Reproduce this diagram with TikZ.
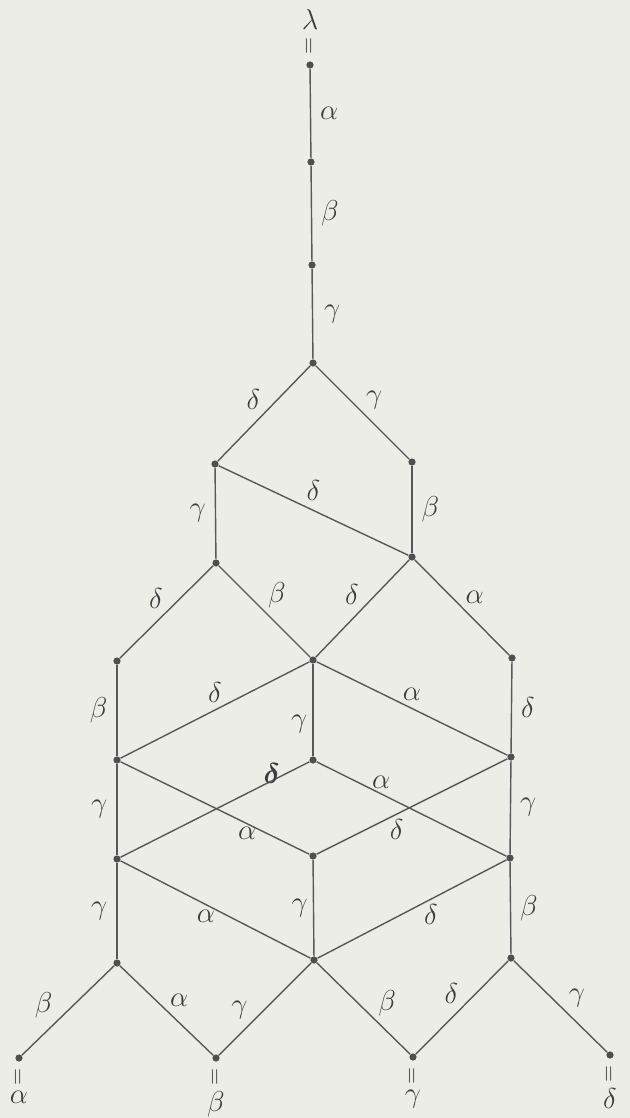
\documentclass[tikz,border=0pt]{standalone}
\usepackage{amsmath}
\usepackage{tikz}
\usetikzlibrary{positioning}
\definecolor{paper}{RGB}{237,237,232}
\definecolor{pencil}{RGB}{88,88,88}

\begin{document}
\begin{tikzpicture}[
  x=0.5pt, y=-0.5pt,
  node distance=2pt,
  dot/.style={circle, fill=pencil!90!black, inner sep=0pt, minimum size=3.6pt},
  edge/.style={draw=pencil, line width=0.7pt},
  lbl/.style={font=\fontsize{15}{17}\selectfont, inner sep=1.5pt, text=pencil!70!black},
  eqs/.style={font=\fontsize{11}{13}\selectfont\bfseries, inner sep=0pt, text=pencil!70!black}
]
\fill[paper] (0,0) rectangle (630,1118);
\useasboundingbox (0,0) rectangle (630,1118);
% stem
\node[dot] (l0) at (310,65) {};
\node[dot] (l1) at (311,162) {};
\node[dot] (l2) at (312,265) {};
\node[dot] (r0) at (313,363) {};
% upper part
\node[dot] (a1) at (215,464) {};
\node[dot] (a2) at (412,462) {};
\node[dot] (b1) at (216,563) {};
\node[dot] (b2) at (412,557) {};
% middle rows
\node[dot] (c1) at (117,661) {};
\node[dot] (c2) at (313,660) {};
\node[dot] (c3) at (512,658) {};
\node[dot] (d1) at (117,760) {};
\node[dot] (d2) at (313,760) {};
\node[dot] (d3) at (511,757) {};
\node[dot] (e1) at (117,859) {};
\node[dot] (e2) at (313,856) {};
\node[dot] (e3) at (510,858) {};
\node[dot] (f1) at (117,963) {};
\node[dot] (f2) at (314,960) {};
\node[dot] (f3) at (511,958) {};
% leaves
\node[dot] (g1) at (19,1058) {};
\node[dot] (g2) at (216,1058) {};
\node[dot] (g3) at (413,1057) {};
\node[dot] (g4) at (610,1055) {};
% end marks
\node[eqs, above=3pt of l0] (topeq) {\rotatebox{90}{$=$}};
\node[lbl, above=2pt of topeq] (toplam) {$\lambda$};
\foreach \g/\t in {g1/\alpha, g2/\beta, g3/\gamma, g4/\delta}{
  \node[eqs, below=3pt of \g] (\g eq) {\rotatebox{90}{$=$}};
  \node[lbl, below=1pt of \g eq] (\g lam) {$\t$};
}
% stem edges
\draw[edge] (l0) -- node[lbl, right=3pt] {$\alpha$} (l1);
\draw[edge] (l1) -- node[lbl, right=3pt] {$\beta$} (l2);
\draw[edge] (l2) -- node[lbl, right=4pt] {$\gamma$} (r0);
\draw[edge] (r0) -- node[lbl, above left] {$\delta$} (a1);
\draw[edge] (r0) -- node[lbl, above right] {$\gamma$} (a2);
\draw[edge] (a1) -- node[lbl, left=3pt] {$\gamma$} (b1);
\draw[edge] (a1) -- node[lbl, above=3pt] {$\delta$} (b2);
\draw[edge] (a2) -- node[lbl, right=3pt] {$\beta$} (b2);
\draw[edge] (b1) -- node[lbl, above left] {$\delta$} (c1);
\draw[edge] (b1) -- node[lbl, above right] {$\beta$} (c2);
\draw[edge] (b2) -- node[lbl, above left] {$\delta$} (c2);
\draw[edge] (b2) -- node[lbl, above right] {$\alpha$} (c3);
\draw[edge] (c1) -- node[lbl, left=3pt] {$\beta$} (d1);
\draw[edge] (c2) -- node[lbl, above=2pt] {$\delta$} (d1);
\draw[edge] (c2) -- node[lbl, left=1pt, pos=0.65] {$\gamma$} (d2);
\draw[edge] (c2) -- node[lbl, above=2pt] {$\alpha$} (d3);
\draw[edge] (c3) -- node[lbl, right=3pt] {$\delta$} (d3);
% inner crossing
\draw[edge] (d1) -- node[lbl, left=3pt] {$\gamma$} (e1);
\draw[edge] (d3) -- node[lbl, right=3pt] {$\gamma$} (e3);
\draw[edge] (d2) -- node[lbl, above=-3pt, pos=0.2] {$\boldsymbol{\delta}$} (e1);
\draw[edge] (d2) -- node[lbl, above=1pt, pos=0.34] {$\alpha$} (e3);
\draw[edge] (d1) -- node[lbl, below=0pt, pos=0.67] {$\alpha$} (e2);
\draw[edge] (d3) -- node[lbl, below=1pt, pos=0.58] {$\delta$} (e2);
\draw[edge] (e1) -- node[lbl, left=3pt] {$\gamma$} (f1);
\draw[edge] (e1) -- node[lbl, below=1pt, pos=0.45] {$\alpha$} (f2);
\draw[edge] (e2) -- node[lbl, left=1pt] {$\gamma$} (f2);
\draw[edge] (e3) -- node[lbl, below=1pt, pos=0.4] {$\delta$} (f2);
\draw[edge] (e3) -- node[lbl, right=3pt] {$\beta$} (f3);
% bottom fan
\draw[edge] (f1) -- node[lbl, above left, pos=0.63] {$\beta$} (g1);
\draw[edge] (f1) -- node[lbl, above right] {$\alpha$} (g2);
\draw[edge] (f2) -- node[lbl, above left, pos=0.65] {$\gamma$} (g2);
\draw[edge] (f2) -- node[lbl, above right, pos=0.62] {$\beta$} (g3);
\draw[edge] (f3) -- node[lbl, above left] {$\delta$} (g3);
\draw[edge] (f3) -- node[lbl, above right, pos=0.55] {$\gamma$} (g4);
\end{tikzpicture}
\end{document}
